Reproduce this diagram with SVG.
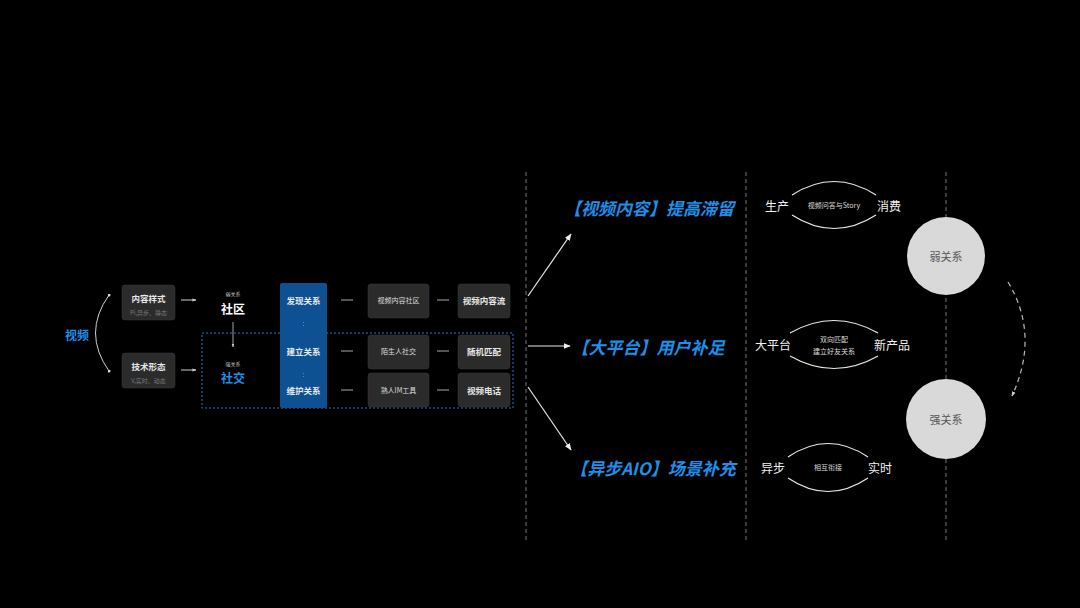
<svg xmlns="http://www.w3.org/2000/svg" width="1080" height="608" viewBox="0 0 1080 608">
<defs>
<style>
text{font-family:"Noto Sans CJK SC","Liberation Sans",sans-serif;text-anchor:middle;dominant-baseline:central}
.box{fill:#2b2b2b;stroke:#3a3a3a;stroke-width:0.5}
.bt{fill:#e8e8e8;font-size:8.5px;font-weight:bold}
.sub{fill:#777;font-size:6px}
.tiny{fill:#ccc;font-size:5px}
.big{fill:#fff;font-size:12px;font-weight:bold}
.blue{fill:#1f8fe8;font-weight:bold}
.ttl{fill:#1f8fe8;font-size:17px;font-weight:bold;font-style:italic}
.wt{fill:#f0f0f0;font-size:12px}
.st{fill:#ddd;font-size:7px}
.ln{stroke:#e8e8e8;stroke-width:1.2;fill:none}
.vd{stroke:#777;stroke-width:1;stroke-dasharray:4 3;fill:none}
.dash{stroke:#aaa;stroke-width:1}
</style>
<marker id="ah" viewBox="0 0 10 10" refX="9" refY="5" markerWidth="6" markerHeight="6" orient="auto-start-reverse"><path d="M0,1 L10,5 L0,9 Z" fill="#eee"/></marker>
<marker id="sa" viewBox="0 0 10 10" refX="9" refY="5" markerWidth="4" markerHeight="4" orient="auto"><path d="M0,1 L10,5 L0,9 Z" fill="#ccc"/></marker>
<marker id="dot" viewBox="0 0 10 10" refX="5" refY="5" markerWidth="3" markerHeight="3"><circle cx="5" cy="5" r="5" fill="#ddd"/></marker>
</defs>
<rect width="1080" height="608" fill="#000"/>

<g id="connectors">
<path d="M109,295 Q82,333 109,371" stroke="#cfcfcf" stroke-width="1" fill="none" marker-start="url(#dot)" marker-end="url(#dot)"/>
<line x1="181" y1="300" x2="196" y2="300" stroke="#ccc" stroke-width="1" marker-end="url(#sa)"/>
<line x1="181" y1="370" x2="196" y2="370" stroke="#ccc" stroke-width="1" marker-end="url(#sa)"/>
<line x1="233" y1="322" x2="233" y2="347" stroke="#ccc" stroke-width="0.8" marker-end="url(#sa)"/>
<line x1="341" y1="300" x2="353" y2="300" class="dash"/>
<line x1="341" y1="351" x2="353" y2="351" class="dash"/>
<line x1="341" y1="390" x2="353" y2="390" class="dash"/>
<line x1="437" y1="300" x2="449" y2="300" class="dash"/>
<line x1="437" y1="351" x2="449" y2="351" class="dash"/>
<line x1="437" y1="390" x2="449" y2="390" class="dash"/>
<line class="vd" x1="526" y1="172" x2="526" y2="540"/>
<line class="vd" x1="746" y1="172" x2="746" y2="540"/>
<line class="vd" x1="946" y1="172" x2="946" y2="540"/>
<line class="ln" x1="528" y1="296" x2="571" y2="234" marker-end="url(#ah)"/>
<line class="ln" x1="528" y1="346" x2="570" y2="346" marker-end="url(#ah)"/>
<line class="ln" x1="528" y1="387" x2="571" y2="450" marker-end="url(#ah)"/>
<path class="ln" d="M792,195 Q834,168 876,195"/>
<path class="ln" d="M792,215 Q834,242 876,215"/>
<path class="ln" d="M790,333 Q834,308 878,333"/>
<path class="ln" d="M790,356 Q834,381 878,356"/>
<path class="ln" d="M788,457 Q828,430 868,457"/>
<path class="ln" d="M788,478 Q828,505 868,478"/>
<path d="M1008,282 Q1040,335 1012,396" stroke="#bbb" stroke-width="1.2" fill="none" stroke-dasharray="5 4" marker-end="url(#sa)"/>
</g>

<g id="n-video"><text x="77" y="334" class="blue" font-size="12">视频</text></g>

<g id="n-style"><rect class="box" x="122" y="285" width="53" height="35" rx="3"/>
<text x="148.5" y="298" class="bt">内容样式</text><text x="148.5" y="312" class="sub">Pi,异步、静态</text></g>
<g id="n-tech"><rect class="box" x="122" y="353" width="53" height="35" rx="3"/>
<text x="148.5" y="366" class="bt">技术形态</text><text x="148.5" y="380" class="sub">V,实时、动态</text></g>

<g id="n-community"><text x="233" y="293" class="tiny">弱关系</text><text x="233" y="308" class="big">社区</text></g>
<g id="n-social"><text x="233" y="363" class="tiny">强关系</text><text x="233" y="377" class="blue" font-size="12">社交</text></g>

<g id="n-group"><rect x="202" y="333" width="311" height="75" fill="none" stroke="#2a78c8" stroke-width="1" stroke-dasharray="2 2"/></g>

<g id="n-column"><rect x="280" y="283" width="47" height="125" rx="2" fill="#0d5193"/>
<text x="303.5" y="300" class="bt">发现关系</text>
<text x="303.5" y="351" class="bt">建立关系</text>
<text x="303.5" y="390" class="bt">维护关系</text>
<line x1="303.5" y1="322" x2="303.5" y2="328" stroke="#4a8fd0" stroke-width="1" stroke-dasharray="1 2"/>
<line x1="303.5" y1="373" x2="303.5" y2="379" stroke="#4a8fd0" stroke-width="1" stroke-dasharray="1 2"/></g>

<g id="n-b1"><rect class="box" x="368" y="284" width="61" height="34" rx="3"/><text x="398.5" y="300" class="st">视频内容社区</text></g>
<g id="n-b2"><rect class="box" x="368" y="335" width="61" height="34" rx="3"/><text x="398.5" y="351" class="st">陌生人社交</text></g>
<g id="n-b3"><rect class="box" x="368" y="373" width="61" height="34" rx="3"/><text x="398.5" y="390" class="st">熟人IM工具</text></g>
<g id="n-c1"><rect class="box" x="458" y="284" width="52" height="34" rx="3"/><text x="484" y="300" class="bt">视频内容流</text></g>
<g id="n-c2"><rect class="box" x="458" y="335" width="52" height="34" rx="3"/><text x="484" y="351" class="bt">随机匹配</text></g>
<g id="n-c3"><rect class="box" x="458" y="373" width="52" height="34" rx="3"/><text x="484" y="390" class="bt">视频电话</text></g>

<g id="n-t1"><text x="649" y="207" class="ttl">【视频内容】提高滞留</text></g>
<g id="n-t2"><text x="648" y="346" class="ttl">【大平台】用户补足</text></g>
<g id="n-t3"><text x="653" y="467" class="ttl">【异步AIO】场景补充</text></g>

<g id="n-r1"><text x="777" y="205" class="wt">生产</text><text x="889" y="205" class="wt">消费</text><text x="834" y="205" class="st">视频问答与Story</text></g>
<g id="n-r2"><text x="773" y="344" class="wt">大平台</text><text x="892" y="344" class="wt">新产品</text><text x="834" y="339" class="st">双向匹配</text><text x="834" y="351" class="st">建立好友关系</text></g>
<g id="n-r3"><text x="773" y="467" class="wt">异步</text><text x="880" y="467" class="wt">实时</text><text x="828" y="467" class="st">相互衔接</text></g>

<g id="n-weak"><circle cx="946" cy="256" r="39" fill="#d9d9d9"/><text x="946" y="256" fill="#555" font-size="11">弱关系</text></g>
<g id="n-strong"><circle cx="946" cy="419" r="40" fill="#d9d9d9"/><text x="946" y="419" fill="#555" font-size="11">强关系</text></g>
</svg>
